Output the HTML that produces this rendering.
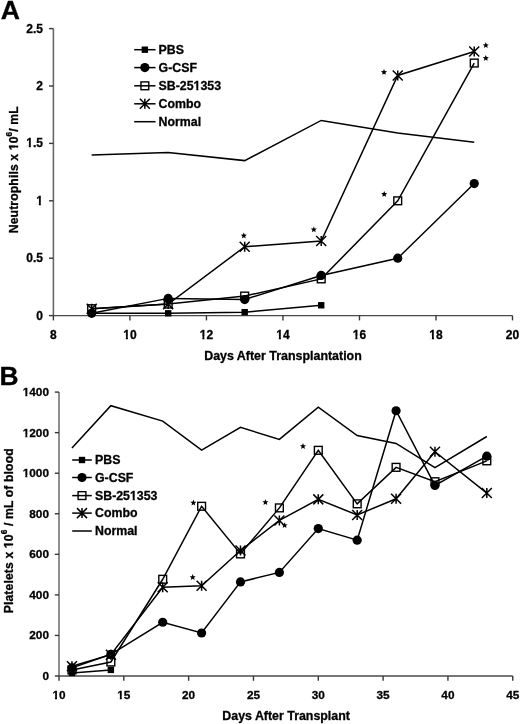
<!DOCTYPE html>
<html><head><meta charset="utf-8"><style>
html,body{margin:0;padding:0;background:#fff;width:520px;height:724px;overflow:hidden}
svg{display:block;filter:blur(0.35px)}
text{font-family:"Liberation Sans",sans-serif;font-weight:bold;fill:#000;stroke:#000;stroke-width:0.3px}
</style></head><body>
<svg width="520" height="724" viewBox="0 0 520 724" font-family="Liberation Sans, sans-serif" font-weight="bold"><text x="0.85" y="18.90" font-size="26.6" text-anchor="start">A</text>
<line x1="53.4" y1="28.6" x2="53.4" y2="315.6" stroke="#686868" stroke-width="1.6"></line>
<line x1="52.4" y1="315.6" x2="512.5" y2="315.6" stroke="#4a4a4a" stroke-width="1.4"></line>
<line x1="49.0" y1="315.60" x2="53.4" y2="315.60" stroke="#383838" stroke-width="1.4"></line>
<text x="42.90" y="319.60" font-size="12" text-anchor="end">0</text>
<line x1="49.0" y1="258.20" x2="53.4" y2="258.20" stroke="#383838" stroke-width="1.4"></line>
<text x="42.90" y="262.20" font-size="12" text-anchor="end">0.5</text>
<line x1="49.0" y1="200.80" x2="53.4" y2="200.80" stroke="#383838" stroke-width="1.4"></line>
<text x="42.90" y="204.80" font-size="12" text-anchor="end">1</text><g><rect x="36.47" width="2.34" y="202.58" height="3.42" fill="#fff"></rect><rect x="40.87" width="2.19" y="202.58" height="3.42" fill="#fff"></rect></g>
<line x1="49.0" y1="143.40" x2="53.4" y2="143.40" stroke="#383838" stroke-width="1.4"></line>
<text x="42.90" y="147.40" font-size="12" text-anchor="end">1.5</text><g><rect x="26.47" width="2.34" y="145.18" height="3.42" fill="#fff"></rect><rect x="30.87" width="2.19" y="145.18" height="3.42" fill="#fff"></rect></g>
<line x1="49.0" y1="86.00" x2="53.4" y2="86.00" stroke="#383838" stroke-width="1.4"></line>
<text x="42.90" y="90.00" font-size="12" text-anchor="end">2</text>
<line x1="49.0" y1="28.60" x2="53.4" y2="28.60" stroke="#383838" stroke-width="1.4"></line>
<text x="42.90" y="32.60" font-size="12" text-anchor="end">2.5</text>
<line x1="53.40" y1="315.6" x2="53.40" y2="320.40000000000003" stroke="#383838" stroke-width="1.4"></line>
<text x="53.40" y="338.60" font-size="12" text-anchor="middle">8</text>
<line x1="129.92" y1="315.6" x2="129.92" y2="320.40000000000003" stroke="#383838" stroke-width="1.4"></line>
<text x="129.92" y="338.60" font-size="12" text-anchor="middle">10</text><g><rect x="123.50" width="2.34" y="336.38" height="3.42" fill="#fff"></rect><rect x="127.90" width="2.19" y="336.38" height="3.42" fill="#fff"></rect></g>
<line x1="206.43" y1="315.6" x2="206.43" y2="320.40000000000003" stroke="#383838" stroke-width="1.4"></line>
<text x="206.43" y="338.60" font-size="12" text-anchor="middle">12</text><g><rect x="200.01" width="2.34" y="336.38" height="3.42" fill="#fff"></rect><rect x="204.41" width="2.19" y="336.38" height="3.42" fill="#fff"></rect></g>
<line x1="282.95" y1="315.6" x2="282.95" y2="320.40000000000003" stroke="#383838" stroke-width="1.4"></line>
<text x="282.95" y="338.60" font-size="12" text-anchor="middle">14</text><g><rect x="276.53" width="2.34" y="336.38" height="3.42" fill="#fff"></rect><rect x="280.93" width="2.19" y="336.38" height="3.42" fill="#fff"></rect></g>
<line x1="359.47" y1="315.6" x2="359.47" y2="320.40000000000003" stroke="#383838" stroke-width="1.4"></line>
<text x="359.47" y="338.60" font-size="12" text-anchor="middle">16</text><g><rect x="353.05" width="2.34" y="336.38" height="3.42" fill="#fff"></rect><rect x="357.45" width="2.19" y="336.38" height="3.42" fill="#fff"></rect></g>
<line x1="435.98" y1="315.6" x2="435.98" y2="320.40000000000003" stroke="#383838" stroke-width="1.4"></line>
<text x="435.98" y="338.60" font-size="12" text-anchor="middle">18</text><g><rect x="429.56" width="2.34" y="336.38" height="3.42" fill="#fff"></rect><rect x="433.96" width="2.19" y="336.38" height="3.42" fill="#fff"></rect></g>
<line x1="512.50" y1="315.6" x2="512.50" y2="320.40000000000003" stroke="#383838" stroke-width="1.4"></line>
<text x="512.50" y="338.60" font-size="12" text-anchor="middle">20</text>
<text x="204.20" y="359.60" font-size="12.4" text-anchor="start" textLength="157.6" lengthAdjust="spacingAndGlyphs">Days After Transplantation</text>
<text transform="translate(17.5,169.75) rotate(-90)" font-size="12.2" text-anchor="middle" textLength="127" lengthAdjust="spacing">Neutrophils x 10<tspan font-size="8.3" dy="-5.7">6</tspan><tspan dy="5.7">/ mL</tspan></text><g transform="translate(17.5,169.75) rotate(-90)"><rect x="19.79" width="2.38" y="-2.25" height="3.45" fill="#fff"></rect><rect x="24.24" width="2.22" y="-2.25" height="3.45" fill="#fff"></rect></g>
<polyline points="91.66,154.88 168.18,152.58 244.69,160.62 321.21,120.44 397.73,133.07 474.24,142.25" fill="none" stroke="#000" stroke-width="1.5" stroke-linejoin="miter"></polyline>
<polyline points="91.66,313.30 168.18,313.30 244.69,312.16 321.21,305.27" fill="none" stroke="#000" stroke-width="1.5" stroke-linejoin="miter"></polyline>
<polyline points="91.66,313.30 168.18,298.38 244.69,299.53 321.21,275.42 397.73,258.20 474.24,183.58" fill="none" stroke="#000" stroke-width="1.5" stroke-linejoin="miter"></polyline>
<polyline points="91.66,308.71 168.18,304.12 244.69,296.08 321.21,278.86 397.73,200.80 474.24,63.04" fill="none" stroke="#000" stroke-width="1.5" stroke-linejoin="miter"></polyline>
<polyline points="91.66,308.71 168.18,304.12 244.69,246.72 321.21,240.98 397.73,75.44 474.24,51.56" fill="none" stroke="#000" stroke-width="1.5" stroke-linejoin="miter"></polyline>
<rect x="88.46" y="310.10" width="6.4" height="6.4" fill="#000"></rect>
<rect x="164.98" y="310.10" width="6.4" height="6.4" fill="#000"></rect>
<rect x="241.49" y="308.96" width="6.4" height="6.4" fill="#000"></rect>
<rect x="318.01" y="302.07" width="6.4" height="6.4" fill="#000"></rect>
<circle cx="91.66" cy="313.30" r="4.6" fill="#000"></circle>
<circle cx="168.18" cy="298.38" r="4.6" fill="#000"></circle>
<circle cx="244.69" cy="299.53" r="4.6" fill="#000"></circle>
<circle cx="321.21" cy="275.42" r="4.6" fill="#000"></circle>
<circle cx="397.73" cy="258.20" r="4.6" fill="#000"></circle>
<circle cx="474.24" cy="183.58" r="4.6" fill="#000"></circle>
<rect x="87.76" y="304.81" width="7.8" height="7.8" fill="none" stroke="#000" stroke-width="1.4"></rect>
<rect x="164.28" y="300.22" width="7.8" height="7.8" fill="none" stroke="#000" stroke-width="1.4"></rect>
<rect x="240.79" y="292.18" width="7.8" height="7.8" fill="none" stroke="#000" stroke-width="1.4"></rect>
<rect x="317.31" y="274.96" width="7.8" height="7.8" fill="none" stroke="#000" stroke-width="1.4"></rect>
<rect x="393.83" y="196.90" width="7.8" height="7.8" fill="none" stroke="#000" stroke-width="1.4"></rect>
<rect x="470.34" y="59.14" width="7.8" height="7.8" fill="none" stroke="#000" stroke-width="1.4"></rect>
<path d="M86.66,303.71L96.66,313.71M96.66,303.71L86.66,313.71M91.66,303.71L91.66,313.71" stroke="#000" stroke-width="1.5" fill="none"></path>
<path d="M163.18,299.12L173.18,309.12M173.18,299.12L163.18,309.12M168.18,299.12L168.18,309.12" stroke="#000" stroke-width="1.5" fill="none"></path>
<path d="M239.69,241.72L249.69,251.72M249.69,241.72L239.69,251.72M244.69,241.72L244.69,251.72" stroke="#000" stroke-width="1.5" fill="none"></path>
<path d="M316.21,235.98L326.21,245.98M326.21,235.98L316.21,245.98M321.21,235.98L321.21,245.98" stroke="#000" stroke-width="1.5" fill="none"></path>
<path d="M392.73,70.44L402.73,80.44M402.73,70.44L392.73,80.44M397.73,70.44L397.73,80.44" stroke="#000" stroke-width="1.5" fill="none"></path>
<path d="M469.24,46.56L479.24,56.56M479.24,46.56L469.24,56.56M474.24,46.56L474.24,56.56" stroke="#000" stroke-width="1.5" fill="none"></path>
<polygon points="243.80,232.50 244.65,234.53 246.84,234.71 245.18,236.15 245.68,238.29 243.80,237.15 241.92,238.29 242.42,236.15 240.76,234.71 242.95,234.53" fill="#000"></polygon>
<polygon points="313.80,226.40 314.65,228.43 316.84,228.61 315.18,230.05 315.68,232.19 313.80,231.05 311.92,232.19 312.42,230.05 310.76,228.61 312.95,228.43" fill="#000"></polygon>
<polygon points="384.00,69.00 384.85,71.03 387.04,71.21 385.38,72.65 385.88,74.79 384.00,73.65 382.12,74.79 382.62,72.65 380.96,71.21 383.15,71.03" fill="#000"></polygon>
<polygon points="384.20,191.00 385.05,193.03 387.24,193.21 385.58,194.65 386.08,196.79 384.20,195.65 382.32,196.79 382.82,194.65 381.16,193.21 383.35,193.03" fill="#000"></polygon>
<polygon points="485.80,42.20 486.65,44.23 488.84,44.41 487.18,45.85 487.68,47.99 485.80,46.85 483.92,47.99 484.42,45.85 482.76,44.41 484.95,44.23" fill="#000"></polygon>
<polygon points="485.80,55.00 486.65,57.03 488.84,57.21 487.18,58.65 487.68,60.79 485.80,59.65 483.92,60.79 484.42,58.65 482.76,57.21 484.95,57.03" fill="#000"></polygon>
<line x1="134.2" y1="49.70" x2="155.5" y2="49.70" stroke="#000" stroke-width="1.5"></line>
<rect x="141.65" y="46.50" width="6.4" height="6.4" fill="#000"></rect>
<text x="158.60" y="54.00" font-size="12.35" text-anchor="start">PBS</text>
<line x1="134.2" y1="67.60" x2="155.5" y2="67.60" stroke="#000" stroke-width="1.5"></line>
<circle cx="144.85" cy="67.60" r="4.6" fill="#000"></circle>
<text x="158.60" y="71.90" font-size="12.35" text-anchor="start">G-CSF</text>
<line x1="134.2" y1="85.80" x2="155.5" y2="85.80" stroke="#000" stroke-width="1.5"></line>
<rect x="140.95" y="81.90" width="7.8" height="7.8" fill="none" stroke="#000" stroke-width="1.4"></rect>
<text x="158.60" y="90.10" font-size="12.35" text-anchor="start">SB-251353</text><g><rect x="193.86" width="2.40" y="87.84" height="3.46" fill="#fff"></rect><rect x="198.37" width="2.25" y="87.84" height="3.46" fill="#fff"></rect></g>
<line x1="134.2" y1="103.80" x2="155.5" y2="103.80" stroke="#000" stroke-width="1.5"></line>
<path d="M139.85,98.80L149.85,108.80M149.85,98.80L139.85,108.80M144.85,98.80L144.85,108.80" stroke="#000" stroke-width="1.5" fill="none"></path>
<text x="158.60" y="108.10" font-size="12.35" text-anchor="start">Combo</text>
<line x1="134.2" y1="121.70" x2="155.5" y2="121.70" stroke="#000" stroke-width="1.5"></line>
<text x="158.60" y="126.00" font-size="12.35" text-anchor="start">Normal</text>
<text x="-0.50" y="384.50" font-size="26.4" text-anchor="start">B</text>
<line x1="59.0" y1="392.1" x2="59.0" y2="676.0" stroke="#7a7a7a" stroke-width="1.7"></line>
<line x1="58.0" y1="676.0" x2="512.75" y2="676.0" stroke="#4a4a4a" stroke-width="1.4"></line>
<line x1="54.8" y1="676.00" x2="59.0" y2="676.00" stroke="#383838" stroke-width="1.4"></line>
<text x="49.00" y="680.00" font-size="11.8" text-anchor="end">0</text>
<line x1="54.8" y1="635.44" x2="59.0" y2="635.44" stroke="#383838" stroke-width="1.4"></line>
<text x="49.00" y="639.44" font-size="11.8" text-anchor="end">200</text>
<line x1="54.8" y1="594.89" x2="59.0" y2="594.89" stroke="#383838" stroke-width="1.4"></line>
<text x="49.00" y="598.89" font-size="11.8" text-anchor="end">400</text>
<line x1="54.8" y1="554.33" x2="59.0" y2="554.33" stroke="#383838" stroke-width="1.4"></line>
<text x="49.00" y="558.33" font-size="11.8" text-anchor="end">600</text>
<line x1="54.8" y1="513.77" x2="59.0" y2="513.77" stroke="#383838" stroke-width="1.4"></line>
<text x="49.00" y="517.77" font-size="11.8" text-anchor="end">800</text>
<line x1="54.8" y1="473.21" x2="59.0" y2="473.21" stroke="#383838" stroke-width="1.4"></line>
<text x="49.00" y="477.21" font-size="11.8" text-anchor="end">1000</text><g><rect x="22.99" width="2.31" y="475.01" height="3.40" fill="#fff"></rect><rect x="27.32" width="2.16" y="475.01" height="3.40" fill="#fff"></rect></g>
<line x1="54.8" y1="432.66" x2="59.0" y2="432.66" stroke="#383838" stroke-width="1.4"></line>
<text x="49.00" y="436.66" font-size="11.8" text-anchor="end">1200</text><g><rect x="22.99" width="2.31" y="434.46" height="3.40" fill="#fff"></rect><rect x="27.32" width="2.16" y="434.46" height="3.40" fill="#fff"></rect></g>
<line x1="54.8" y1="392.10" x2="59.0" y2="392.10" stroke="#383838" stroke-width="1.4"></line>
<text x="49.00" y="396.10" font-size="11.8" text-anchor="end">1400</text><g><rect x="22.99" width="2.31" y="393.90" height="3.40" fill="#fff"></rect><rect x="27.32" width="2.16" y="393.90" height="3.40" fill="#fff"></rect></g>
<line x1="59.00" y1="676.0" x2="59.00" y2="680.8" stroke="#383838" stroke-width="1.4"></line>
<text x="59.00" y="698.90" font-size="11.8" text-anchor="middle">10</text><g><rect x="52.68" width="2.31" y="696.70" height="3.40" fill="#fff"></rect><rect x="57.01" width="2.16" y="696.70" height="3.40" fill="#fff"></rect></g>
<line x1="123.82" y1="676.0" x2="123.82" y2="680.8" stroke="#383838" stroke-width="1.4"></line>
<text x="123.82" y="698.90" font-size="11.8" text-anchor="middle">15</text><g><rect x="117.50" width="2.31" y="696.70" height="3.40" fill="#fff"></rect><rect x="121.83" width="2.16" y="696.70" height="3.40" fill="#fff"></rect></g>
<line x1="188.64" y1="676.0" x2="188.64" y2="680.8" stroke="#383838" stroke-width="1.4"></line>
<text x="188.64" y="698.90" font-size="11.8" text-anchor="middle">20</text>
<line x1="253.46" y1="676.0" x2="253.46" y2="680.8" stroke="#383838" stroke-width="1.4"></line>
<text x="253.46" y="698.90" font-size="11.8" text-anchor="middle">25</text>
<line x1="318.29" y1="676.0" x2="318.29" y2="680.8" stroke="#383838" stroke-width="1.4"></line>
<text x="318.29" y="698.90" font-size="11.8" text-anchor="middle">30</text>
<line x1="383.11" y1="676.0" x2="383.11" y2="680.8" stroke="#383838" stroke-width="1.4"></line>
<text x="383.11" y="698.90" font-size="11.8" text-anchor="middle">35</text>
<line x1="447.93" y1="676.0" x2="447.93" y2="680.8" stroke="#383838" stroke-width="1.4"></line>
<text x="447.93" y="698.90" font-size="11.8" text-anchor="middle">40</text>
<line x1="512.75" y1="676.0" x2="512.75" y2="680.8" stroke="#383838" stroke-width="1.4"></line>
<text x="512.75" y="698.90" font-size="11.8" text-anchor="middle">45</text>
<text x="222.30" y="720.00" font-size="12.4" text-anchor="start" textLength="127.6" lengthAdjust="spacingAndGlyphs">Days After Transplant</text>
<text transform="translate(13.4,530.8) rotate(-90)" font-size="12.2" text-anchor="middle" textLength="165" lengthAdjust="spacing">Platelets x 10<tspan font-size="8.3" dy="-6">6</tspan><tspan dy="6"> / mL of blood</tspan></text><g transform="translate(13.4,530.8) rotate(-90)"><rect x="-17.07" width="2.38" y="-2.25" height="3.45" fill="#fff"></rect><rect x="-12.62" width="2.22" y="-2.25" height="3.45" fill="#fff"></rect></g>
<polyline points="71.96,448.07 110.86,405.69 162.71,421.10 201.61,450.10 240.50,427.38 279.39,439.35 318.29,407.11 357.18,435.50 396.07,443.40 434.96,467.74 486.82,436.51" fill="none" stroke="#000" stroke-width="1.5" stroke-linejoin="miter"></polyline>
<polyline points="71.96,672.96 110.86,669.92" fill="none" stroke="#000" stroke-width="1.5" stroke-linejoin="miter"></polyline>
<polyline points="71.96,667.89 110.86,654.30 162.71,622.26 201.61,633.01 240.50,581.91 279.39,572.38 318.29,528.57 357.18,540.13 396.07,410.76 434.96,485.38 486.82,456.18" fill="none" stroke="#000" stroke-width="1.5" stroke-linejoin="miter"></polyline>
<polyline points="71.96,669.92 110.86,662.01 162.71,579.27 201.61,506.27 240.50,553.92 279.39,507.89 318.29,450.30 357.18,503.83 396.07,467.33 434.96,481.73 486.82,460.84" fill="none" stroke="#000" stroke-width="1.5" stroke-linejoin="miter"></polyline>
<polyline points="71.96,666.27 110.86,654.71 162.71,587.18 201.61,585.76 240.50,550.48 279.39,520.46 318.29,499.37 357.18,514.99 396.07,498.77 434.96,451.72 486.82,493.09" fill="none" stroke="#000" stroke-width="1.5" stroke-linejoin="miter"></polyline>
<rect x="68.76" y="669.76" width="6.4" height="6.4" fill="#000"></rect>
<rect x="107.66" y="666.72" width="6.4" height="6.4" fill="#000"></rect>
<circle cx="71.96" cy="667.89" r="4.6" fill="#000"></circle>
<circle cx="110.86" cy="654.30" r="4.6" fill="#000"></circle>
<circle cx="162.71" cy="622.26" r="4.6" fill="#000"></circle>
<circle cx="201.61" cy="633.01" r="4.6" fill="#000"></circle>
<circle cx="240.50" cy="581.91" r="4.6" fill="#000"></circle>
<circle cx="279.39" cy="572.38" r="4.6" fill="#000"></circle>
<circle cx="318.29" cy="528.57" r="4.6" fill="#000"></circle>
<circle cx="357.18" cy="540.13" r="4.6" fill="#000"></circle>
<circle cx="396.07" cy="410.76" r="4.6" fill="#000"></circle>
<circle cx="434.96" cy="485.38" r="4.6" fill="#000"></circle>
<circle cx="486.82" cy="456.18" r="4.6" fill="#000"></circle>
<rect x="68.06" y="666.02" width="7.8" height="7.8" fill="none" stroke="#000" stroke-width="1.4"></rect>
<rect x="106.96" y="658.11" width="7.8" height="7.8" fill="none" stroke="#000" stroke-width="1.4"></rect>
<rect x="158.81" y="575.37" width="7.8" height="7.8" fill="none" stroke="#000" stroke-width="1.4"></rect>
<rect x="197.71" y="502.37" width="7.8" height="7.8" fill="none" stroke="#000" stroke-width="1.4"></rect>
<rect x="236.60" y="550.02" width="7.8" height="7.8" fill="none" stroke="#000" stroke-width="1.4"></rect>
<rect x="275.49" y="503.99" width="7.8" height="7.8" fill="none" stroke="#000" stroke-width="1.4"></rect>
<rect x="314.39" y="446.40" width="7.8" height="7.8" fill="none" stroke="#000" stroke-width="1.4"></rect>
<rect x="353.28" y="499.93" width="7.8" height="7.8" fill="none" stroke="#000" stroke-width="1.4"></rect>
<rect x="392.17" y="463.43" width="7.8" height="7.8" fill="none" stroke="#000" stroke-width="1.4"></rect>
<rect x="431.06" y="477.83" width="7.8" height="7.8" fill="none" stroke="#000" stroke-width="1.4"></rect>
<rect x="482.92" y="456.94" width="7.8" height="7.8" fill="none" stroke="#000" stroke-width="1.4"></rect>
<path d="M66.96,661.27L76.96,671.27M76.96,661.27L66.96,671.27M71.96,661.27L71.96,671.27" stroke="#000" stroke-width="1.5" fill="none"></path>
<path d="M105.86,649.71L115.86,659.71M115.86,649.71L105.86,659.71M110.86,649.71L110.86,659.71" stroke="#000" stroke-width="1.5" fill="none"></path>
<path d="M157.71,582.18L167.71,592.18M167.71,582.18L157.71,592.18M162.71,582.18L162.71,592.18" stroke="#000" stroke-width="1.5" fill="none"></path>
<path d="M196.61,580.76L206.61,590.76M206.61,580.76L196.61,590.76M201.61,580.76L201.61,590.76" stroke="#000" stroke-width="1.5" fill="none"></path>
<path d="M235.50,545.48L245.50,555.48M245.50,545.48L235.50,555.48M240.50,545.48L240.50,555.48" stroke="#000" stroke-width="1.5" fill="none"></path>
<path d="M274.39,515.46L284.39,525.46M284.39,515.46L274.39,525.46M279.39,515.46L279.39,525.46" stroke="#000" stroke-width="1.5" fill="none"></path>
<path d="M313.29,494.37L323.29,504.37M323.29,494.37L313.29,504.37M318.29,494.37L318.29,504.37" stroke="#000" stroke-width="1.5" fill="none"></path>
<path d="M352.18,509.99L362.18,519.99M362.18,509.99L352.18,519.99M357.18,509.99L357.18,519.99" stroke="#000" stroke-width="1.5" fill="none"></path>
<path d="M391.07,493.77L401.07,503.77M401.07,493.77L391.07,503.77M396.07,493.77L396.07,503.77" stroke="#000" stroke-width="1.5" fill="none"></path>
<path d="M429.96,446.72L439.96,456.72M439.96,446.72L429.96,456.72M434.96,446.72L434.96,456.72" stroke="#000" stroke-width="1.5" fill="none"></path>
<path d="M481.82,488.09L491.82,498.09M491.82,488.09L481.82,498.09M486.82,488.09L486.82,498.09" stroke="#000" stroke-width="1.5" fill="none"></path>
<polygon points="193.40,499.60 194.25,501.63 196.44,501.81 194.78,503.25 195.28,505.39 193.40,504.25 191.52,505.39 192.02,503.25 190.36,501.81 192.55,501.63" fill="#000"></polygon>
<polygon points="192.70,574.10 193.55,576.13 195.74,576.31 194.08,577.75 194.58,579.89 192.70,578.75 190.82,579.89 191.32,577.75 189.66,576.31 191.85,576.13" fill="#000"></polygon>
<polygon points="265.40,499.10 266.25,501.13 268.44,501.31 266.78,502.75 267.28,504.89 265.40,503.75 263.52,504.89 264.02,502.75 262.36,501.31 264.55,501.13" fill="#000"></polygon>
<polygon points="284.60,522.20 285.45,524.23 287.64,524.41 285.98,525.85 286.48,527.99 284.60,526.85 282.72,527.99 283.22,525.85 281.56,524.41 283.75,524.23" fill="#000"></polygon>
<polygon points="303.00,443.10 303.85,445.13 306.04,445.31 304.38,446.75 304.88,448.89 303.00,447.75 301.12,448.89 301.62,446.75 299.96,445.31 302.15,445.13" fill="#000"></polygon>
<line x1="72.2" y1="460.00" x2="91.8" y2="460.00" stroke="#000" stroke-width="1.5"></line>
<rect x="78.80" y="456.80" width="6.4" height="6.4" fill="#000"></rect>
<text x="95.00" y="464.30" font-size="12.35" text-anchor="start">PBS</text>
<line x1="72.2" y1="477.50" x2="91.8" y2="477.50" stroke="#000" stroke-width="1.5"></line>
<circle cx="82.00" cy="477.50" r="4.6" fill="#000"></circle>
<text x="95.00" y="481.80" font-size="12.35" text-anchor="start">G-CSF</text>
<line x1="72.2" y1="495.60" x2="91.8" y2="495.60" stroke="#000" stroke-width="1.5"></line>
<rect x="78.10" y="491.70" width="7.8" height="7.8" fill="none" stroke="#000" stroke-width="1.4"></rect>
<text x="95.00" y="499.90" font-size="12.35" text-anchor="start">SB-251353</text><g><rect x="130.26" width="2.40" y="497.64" height="3.46" fill="#fff"></rect><rect x="134.77" width="2.25" y="497.64" height="3.46" fill="#fff"></rect></g>
<line x1="72.2" y1="513.10" x2="91.8" y2="513.10" stroke="#000" stroke-width="1.5"></line>
<path d="M77.00,508.10L87.00,518.10M87.00,508.10L77.00,518.10M82.00,508.10L82.00,518.10" stroke="#000" stroke-width="1.5" fill="none"></path>
<text x="95.00" y="517.40" font-size="12.35" text-anchor="start">Combo</text>
<line x1="72.2" y1="531.00" x2="91.8" y2="531.00" stroke="#000" stroke-width="1.5"></line>
<text x="95.00" y="535.30" font-size="12.35" text-anchor="start">Normal</text></svg>
</body></html>
